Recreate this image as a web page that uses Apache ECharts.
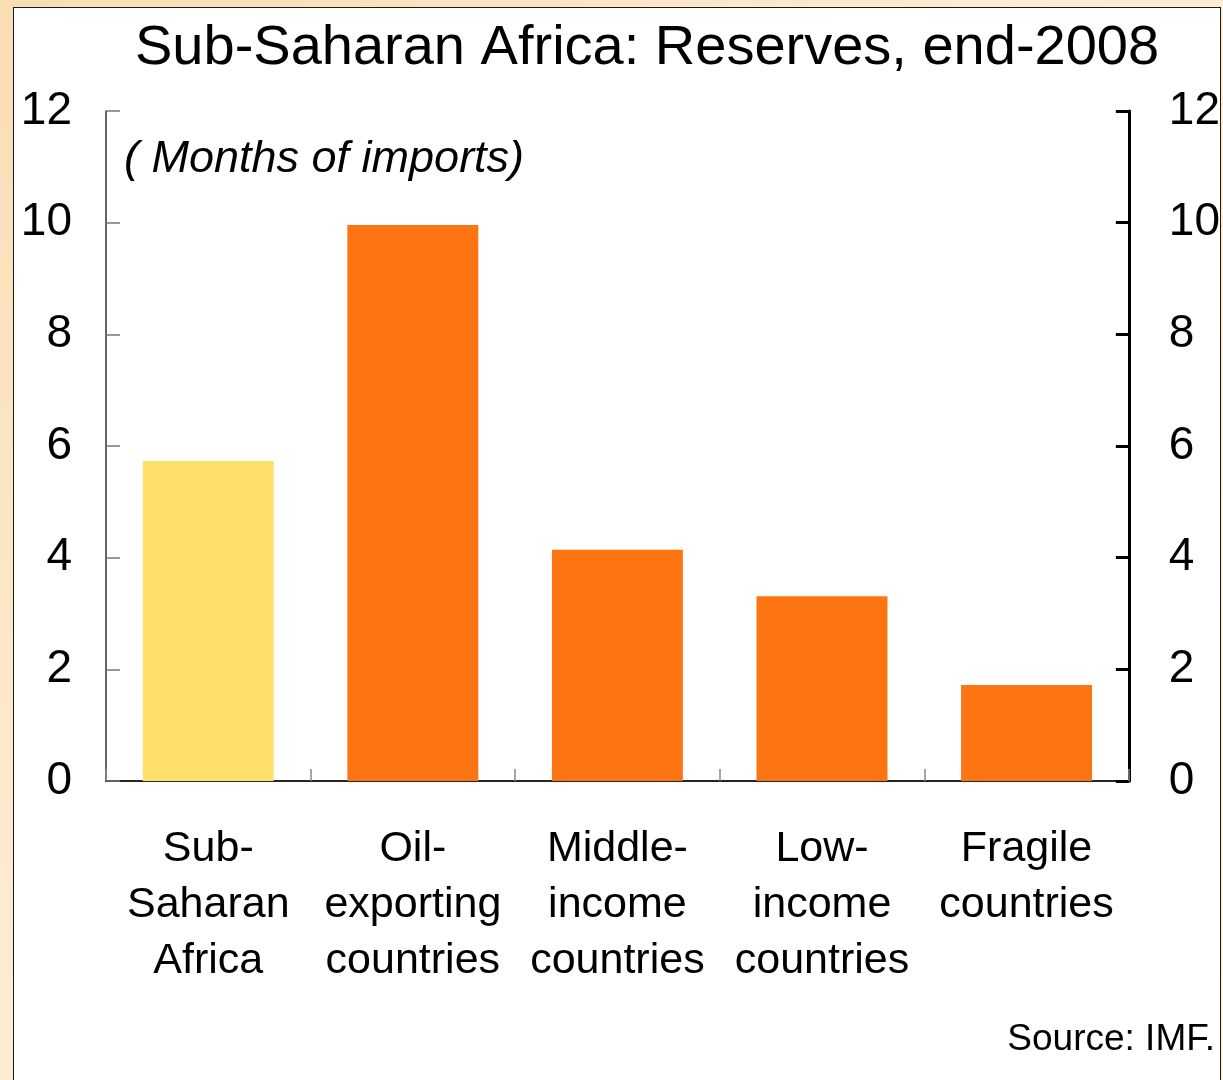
<!DOCTYPE html>
<html>
<head>
<meta charset="utf-8">
<script src="https://cdn.jsdelivr.net/npm/echarts@6/dist/echarts.min.js"></script>
<style>
  html, body { margin: 0; padding: 0; width: 1223px; height: 1080px; overflow: hidden;
    background: linear-gradient(135deg, #f9ddb4 0%, #fdebd0 40%, #fff3df 100%); }
  #frame { position: absolute; left: 13px; top: 7px; width: 1208px; height: 1090px;
    background: #ffffff; border: 1.5px solid #1a1a1a; box-sizing: border-box; }
  #chart { position: absolute; left: 0; top: 0; width: 1223px; height: 1080px; }
</style>
</head>
<body>
<div id="frame"></div>
<div id="chart"></div>
<script>
const titleText = 'Sub-Saharan Africa: Reserves, end-2008';
const unitText = '( Months of imports)';
const sourceText = 'Source: IMF.';
const categories = ['Sub-\nSaharan\nAfrica', 'Oil-\nexporting\ncountries', 'Middle-\nincome\ncountries', 'Low-\nincome\ncountries', 'Fragile\ncountries'];
const reserves = [5.73, 9.96, 4.14, 3.31, 1.72];
const yMin = 0, yMax = 12, yStep = 2;

const FONT = "'Liberation Sans', Arial, sans-serif";
const chart = echarts.init(document.getElementById('chart'), null, { renderer: 'canvas' });
chart.setOption({
  backgroundColor: 'transparent',
  animation: false,
  title: [
    { text: titleText, left: 135, top: 21, padding: 0,
      textStyle: { fontFamily: FONT, fontSize: 56, fontWeight: 'normal', color: '#000' } },
    { text: unitText, left: 124, top: 137, padding: 0,
      textStyle: { fontFamily: FONT, fontSize: 45, fontStyle: 'italic', fontWeight: 'normal', color: '#000' } },
    { text: sourceText, right: 8, top: 1021, padding: 0,
      textStyle: { fontFamily: FONT, fontSize: 37, fontWeight: 'normal', color: '#000' } }
  ],
  grid: { left: 106, right: 90, top: 111, bottom: 299, containLabel: false },
  xAxis: [
    { type: 'category', data: categories, position: 'bottom',
      axisLine: { lineStyle: { color: '#000', width: 2 } },
      axisTick: { show: true, inside: true, length: 12, lineStyle: { color: '#888', width: 1.5 } },
      axisLabel: { interval: 0, margin: 40, fontFamily: FONT, fontSize: 43, lineHeight: 56, color: '#000' } },
    { type: 'category', data: categories, position: 'top',
      axisLine: { lineStyle: { color: '#333', width: 1.5 } },
      axisTick: { show: false }, axisLabel: { show: false } }
  ],
  yAxis: [
    { type: 'value', min: yMin, max: yMax, interval: yStep, position: 'left',
      splitLine: { show: false },
      axisLine: { show: true, lineStyle: { color: '#333', width: 1.5 } },
      axisTick: { show: true, inside: true, length: 14, lineStyle: { color: '#777', width: 1.5 } },
      axisLabel: { margin: 34, fontFamily: FONT, fontSize: 46, color: '#000' } },
    { type: 'value', min: yMin, max: yMax, interval: yStep, position: 'right',
      splitLine: { show: false },
      axisLine: { show: true, lineStyle: { color: '#000', width: 3 } },
      axisTick: { show: true, inside: true, length: 13, lineStyle: { color: '#000', width: 3 } },
      axisLabel: { margin: 40, fontFamily: FONT, fontSize: 46, color: '#000' } }
  ],
  series: [{
    type: 'bar', xAxisIndex: 0, yAxisIndex: 0,
    data: reserves,
    barWidth: '64%',
    itemStyle: { color: function (p) { return p.dataIndex === 0 ? '#fedf6a' : '#fd7412'; } }
  }]
});
</script>
</body>
</html>
